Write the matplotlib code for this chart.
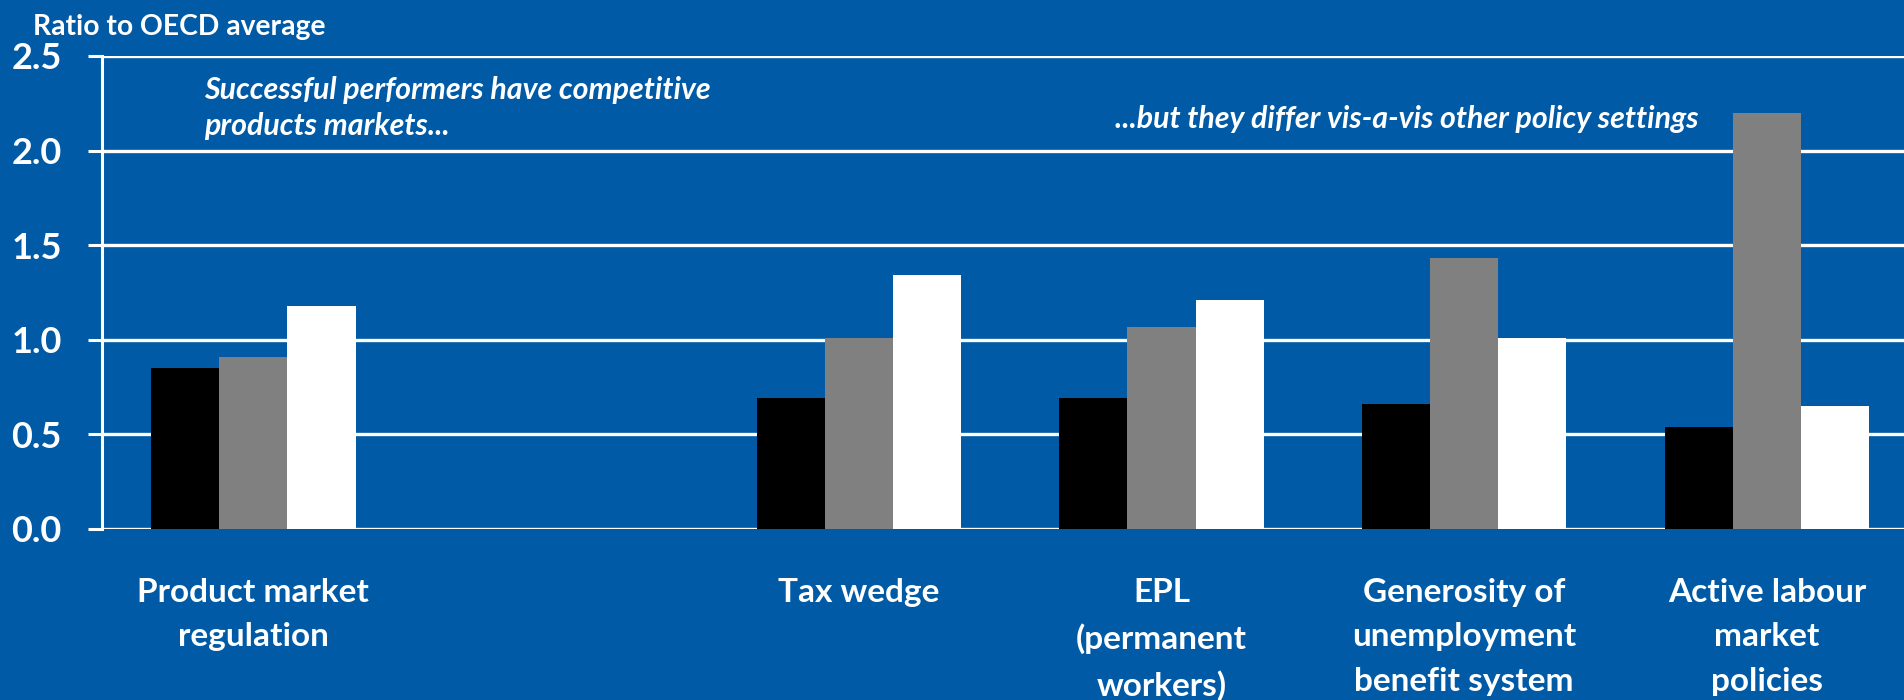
import numpy as np
import matplotlib
matplotlib.use("Agg")
import matplotlib.pyplot as plt

# Policy indicators, ratio to OECD average (an empty slot separates the groups)
categories = [
    "Product market\nregulation",
    "",
    "Tax wedge",
    "EPL\n(permanent\nworkers)",
    "Generosity of\nunemployment\nbenefit system",
    "Active labour\nmarket\npolicies",
]
series_a = [0.85, np.nan, 0.69, 0.69, 0.66, 0.54]   # black bars
series_b = [0.91, np.nan, 1.01, 1.07, 1.43, 2.20]   # grey bars
series_c = [1.18, np.nan, 1.34, 1.21, 1.01, 0.65]   # white bars
y_ticks = [0.0, 0.5, 1.0, 1.5, 2.0, 2.5]
y_tick_labels = ["0.0", "0.5", "1.0", "1.5", "2.0", "2.5"]

BG = "#005AA5"
FONT = ["Lato", "DejaVu Sans"]
plt.rcParams["font.family"] = FONT
plt.rcParams["font.weight"] = "bold"

W, H = 1904, 700
fig = plt.figure(figsize=(W / 100, H / 100), dpi=100, facecolor=BG)
ax = fig.add_axes([102 / W, 1 - 529 / H, 1 - 102 / W, (529 - 56) / H])
ax.set_facecolor(BG)

x = np.arange(len(categories))
bw = 0.225
for off, vals, col in [(-bw, series_a, "black"), (0, series_b, "#808080"), (bw, series_c, "white")]:
    ax.bar(x + off, vals, width=bw, color=col, zorder=3)

ax.set_xlim(-0.5, 5.453)
ax.set_ylim(0, 2.5)
ax.set_yticks(y_ticks)
ax.set_yticklabels(y_tick_labels)
ax.yaxis.grid(True, color="white", linewidth=2.4, zorder=1)
ax.set_axisbelow(True)
for s in ["top", "right", "bottom"]:
    ax.spines[s].set_visible(False)
ax.spines["left"].set_color("white")
ax.spines["left"].set_linewidth(2.2)
ax.spines["left"].set_zorder(2)
ax.tick_params(axis="y", colors="white", length=10, width=2.2, pad=19, labelsize=26)
for t in ax.get_yticklabels():
    t.set_fontweight("bold")

ax.set_xticks(x)
ax.set_xticklabels(categories, color="white", fontsize=24, fontweight="bold", linespacing=1.65,
                   va="top")
ax.tick_params(axis="x", length=0, pad=35)

fig.text(33 / W, 1 - 27 / H, "Ratio to OECD average", color="white", fontsize=20.3,
         fontweight="bold", va="center", ha="left")

note_kw = dict(color="white", fontsize=21.9, fontweight="bold", style="italic",
               va="center", ha="left")
fig.text(204 / W, 1 - 90 / H, "Successful performers have competitive", **note_kw)
fig.text(204 / W, 1 - 126 / H, "products markets...", **note_kw)
fig.text(1115 / W, 1 - 119 / H, "...but they differ vis-a-vis other policy settings", **note_kw)

fig.savefig("out.png", dpi=100, facecolor=BG)
